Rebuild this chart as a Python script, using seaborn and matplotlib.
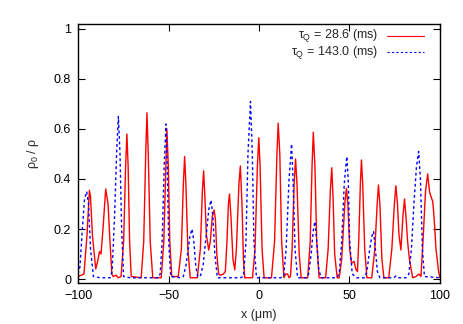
import numpy as np
import pandas as pd
import seaborn as sns
import matplotlib.pyplot as plt

# tau_Q = 28.6 ms (red, solid)
x_fast = [-100.0, -96.7, -95.0, -93.7, -93.1, -92.0, -90.2, -89.2, -88.1, -87.3,
          -86.2, -84.7, -83.4, -82.5, -81.3, -80.6, -79.0, -77.8, -76.2, -74.8,
          -73.7, -73.0, -72.3, -71.5, -70.6, -65.1, -63.7, -62.6, -61.9, -61.2,
          -60.1, -58.7, -54.0, -52.6, -51.5, -50.9, -50.1, -49.3, -48.2, -44.6,
          -42.9, -41.8, -41.1, -40.4, -39.3, -38.0, -34.1, -32.4, -31.3, -30.6,
          -29.9, -29.1, -27.8, -26.9, -25.8, -24.8, -24.1, -23.3, -22.3, -21.3,
          -19.7, -18.6, -17.7, -16.9, -16.3, -15.5, -14.4, -13.4, -12.5, -11.1,
          -10.3, -9.4, -8.6, -7.9, -3.6, -2.2, -0.9, -0.1, 0.6, 1.7,
          2.8, 6.9, 8.6, 9.9, 10.6, 11.5, 12.5, 13.8, 14.7, 15.8,
          16.6, 17.4, 18.3, 19.4, 20.2, 21.0, 22.2, 23.3, 26.9, 28.3,
          29.3, 30.0, 30.9, 31.9, 33.2, 36.8, 38.2, 39.4, 40.2, 40.9,
          41.8, 43.2, 44.3, 45.7, 47.4, 48.3, 49.1, 50.1, 51.1, 52.5,
          53.5, 54.4, 55.1, 56.0, 56.6, 57.3, 58.4, 59.6, 62.3, 64.0,
          65.3, 66.0, 66.8, 67.9, 69.0, 71.7, 73.4, 74.8, 75.6, 76.5,
          77.3, 78.4, 79.5, 80.4, 81.2, 82.1, 83.1, 84.9, 86.7, 88.4,
          89.5, 90.6, 92.0, 93.2, 94.2, 95.0, 96.0, 96.7, 97.8, 99.2,
          100.0]
rho_fast = [0.01, 0.02, 0.18, 0.355, 0.33, 0.17, 0.04, 0.07, 0.11, 0.10,
            0.20, 0.36, 0.30, 0.17, 0.02, 0.01, 0.015, 0.005, 0.01, 0.15,
            0.45, 0.58, 0.45, 0.15, 0.01, 0.005, 0.15, 0.50, 0.665, 0.50,
            0.15, 0.005, 0.005, 0.15, 0.45, 0.60, 0.45, 0.15, 0.01, 0.01,
            0.12, 0.38, 0.49, 0.38, 0.12, 0.005, 0.005, 0.12, 0.35, 0.433,
            0.33, 0.18, 0.116, 0.15, 0.25, 0.276, 0.24, 0.10, 0.02, 0.015,
            0.02, 0.03, 0.15, 0.30, 0.34, 0.25, 0.08, 0.036, 0.12, 0.38,
            0.452, 0.30, 0.08, 0.005, 0.005, 0.12, 0.45, 0.565, 0.45, 0.12,
            0.005, 0.005, 0.15, 0.50, 0.623, 0.50, 0.15, 0.005, 0.02, 0.02,
            0.005, 0.01, 0.12, 0.38, 0.48, 0.38, 0.10, 0.005, 0.005, 0.15,
            0.45, 0.587, 0.45, 0.15, 0.005, 0.005, 0.12, 0.35, 0.445, 0.33,
            0.10, 0.005, 0.005, 0.08, 0.30, 0.363, 0.30, 0.12, 0.063, 0.07,
            0.04, 0.03, 0.15, 0.38, 0.476, 0.38, 0.12, 0.005, 0.005, 0.12,
            0.30, 0.376, 0.30, 0.08, 0.005, 0.005, 0.12, 0.30, 0.373, 0.30,
            0.18, 0.116, 0.25, 0.32, 0.25, 0.15, 0.08, 0.005, 0.01, 0.02,
            0.01, 0.15, 0.35, 0.42, 0.35, 0.33, 0.31, 0.25, 0.12, 0.03,
            0.005]

# tau_Q = 143.0 ms (blue, dotted)
x_slow = [-100.0, -98.9, -97.8, -96.4, -95.2, -94.2, -93.1, -91.5, -87.8, -82.3,
          -81.2, -79.8, -78.7, -77.7, -76.8, -75.9, -74.8, -71.2, -55.7, -54.6,
          -53.5, -52.4, -51.4, -50.7, -49.9, -48.8, -43.5, -41.8, -40.2, -38.2,
          -37.0, -36.0, -34.9, -33.8, -32.4, -30.8, -29.1, -27.7, -26.5, -25.5,
          -24.4, -23.0, -10.3, -8.6, -7.2, -6.1, -4.7, -3.7, -2.8, -1.4,
          11.9, 13.6, 15.0, 16.6, 18.0, 18.8, 19.9, 21.3, 26.3, 27.4,
          28.8, 29.9, 30.9, 31.9, 33.0, 34.3, 42.9, 44.3, 45.7, 47.1,
          48.5, 49.3, 50.1, 51.5, 54.0, 58.4, 59.6, 61.2, 62.3, 63.3,
          64.3, 65.4, 66.8, 74.5, 75.6, 76.7, 81.2, 82.8, 84.2, 85.6,
          87.0, 88.2, 89.2, 90.3, 91.4, 100.0]
rho_slow = [0.02, 0.05, 0.18, 0.32, 0.35, 0.30, 0.12, 0.01, 0.005, 0.005,
            0.03, 0.25, 0.50, 0.65, 0.50, 0.20, 0.01, 0.005, 0.005, 0.02,
            0.15, 0.45, 0.62, 0.45, 0.15, 0.01, 0.005, 0.01, 0.06, 0.17,
            0.20, 0.15, 0.05, 0.01, 0.01, 0.06, 0.18, 0.28, 0.316, 0.25,
            0.10, 0.005, 0.005, 0.01, 0.15, 0.50, 0.71, 0.50, 0.15, 0.005,
            0.005, 0.01, 0.12, 0.40, 0.54, 0.40, 0.12, 0.005, 0.005, 0.02,
            0.10, 0.19, 0.23, 0.15, 0.04, 0.005, 0.005, 0.02, 0.15, 0.38,
            0.49, 0.40, 0.15, 0.02, 0.005, 0.005, 0.03, 0.12, 0.17, 0.19,
            0.12, 0.03, 0.005, 0.005, 0.012, 0.005, 0.005, 0.02, 0.12, 0.30,
            0.45, 0.51, 0.40, 0.12, 0.01, 0.005]

labels = [r'$\tau_Q$ = 28.6 (ms)', r'$\tau_Q$ = 143.0 (ms)']
colors = ['#ff0000', '#0000ff']
x_ticks = [-100, -50, 0, 50, 100]
y_ticks = [0, 0.2, 0.4, 0.6, 0.8, 1]
y_tick_labels = ['0', '0.2', '0.4', '0.6', '0.8', '1']

df = pd.concat([
    pd.DataFrame({'x': x_fast, 'rho': rho_fast, 'run': labels[0]}),
    pd.DataFrame({'x': x_slow, 'rho': rho_slow, 'run': labels[1]}),
])

sns.set_style('ticks')
plt.rcParams['font.family'] = ['Liberation Sans', 'DejaVu Sans']
plt.rcParams['mathtext.fontset'] = 'custom'
plt.rcParams['mathtext.rm'] = 'Liberation Sans'
plt.rcParams['mathtext.it'] = 'Liberation Sans'
plt.rcParams['xtick.direction'] = 'in'
plt.rcParams['ytick.direction'] = 'in'

fig = plt.figure(figsize=(4.63, 3.24), dpi=100)
ax = fig.add_axes([0.1685, 0.1265, 0.7818, 0.7995])

sns.lineplot(data=df, x='x', y='rho', hue='run', style='run',
             palette=colors, dashes=[(None, None), (2, 2)],
             estimator=None, sort=False, linewidth=1.0, legend=False, ax=ax)

ax.set_xlim(-100, 100)
ax.set_ylim(-0.016, 1.02)
ax.set_xticks(x_ticks)
ax.set_yticks(y_ticks)
ax.set_yticklabels(y_tick_labels)
ax.tick_params(direction='in', top=True, right=True, length=5, width=0.8,
               labelsize=9, pad=5, colors='black')
for s in ax.spines.values():
    s.set_visible(True)
    s.set_linewidth(1.0)
    s.set_color('black')

ax.set_xlabel('x (\u03bcm)', fontsize=9, labelpad=5)
ax.set_ylabel(r'$\rho_0$ / $\rho$', fontsize=9, labelpad=9)

# gnuplot-style key: right-aligned text, sample line to its right
key_rows = [0.955, 0.890]
for lab, col, dash, yk in zip(labels, colors, ['-', (0, (2, 2))], key_rows):
    ax.text(0.829, yk, lab, transform=ax.transAxes, ha='right', va='center',
            fontsize=9)
    ax.plot([0.854, 0.956], [yk, yk], transform=ax.transAxes, color=col,
            linestyle=dash, linewidth=0.8)

fig.savefig('out.png', dpi=100)
